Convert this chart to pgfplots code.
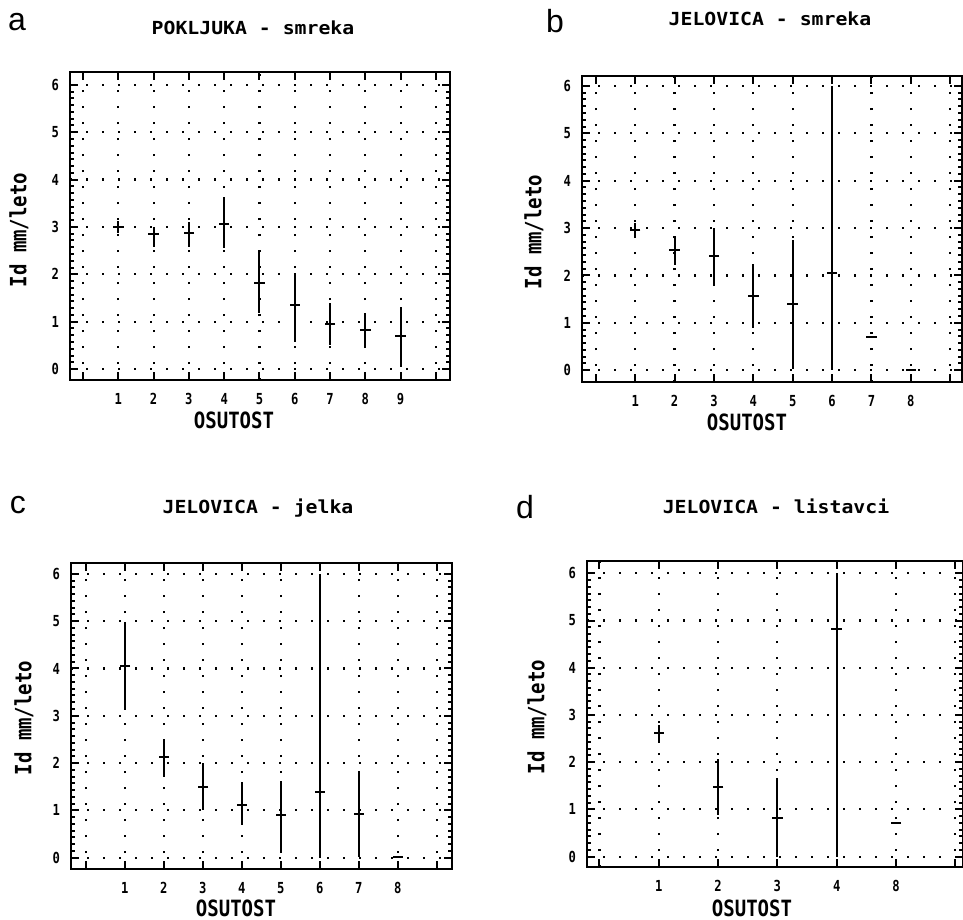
\documentclass[border=0pt]{standalone}
\usepackage{pgfplots}
\usepackage{pgfplotstable}
\pgfplotsset{compat=1.18}
\usepackage{fontspec}
\setmainfont{Liberation Sans}
\newfontfamily\plotfont[FakeStretch=0.85]{DejaVu Sans Mono}
\newfontfamily\titlefont[FakeStretch=1.1]{DejaVu Sans Mono}
\newfontfamily\tickfont[FakeStretch=0.8]{DejaVu Sans Mono}

\pgfplotstableread{
x y lo hi
1 3.00 2.87 3.13
2 2.85 2.58 3.00
3 2.88 2.58 3.11
4 3.06 2.55 3.64
5 1.82 1.18 2.48
6 1.35 0.58 2.02
7 0.96 0.51 1.39
8 0.82 0.47 1.18
9 0.70 0.05 1.32
}\dataA
\pgfplotstableread{
x y lo hi
1 2.96 2.80 3.10
2 2.54 2.22 2.80
3 2.41 1.80 3.00
4 1.56 0.88 2.25
5 1.39 0.03 2.75
6 2.06 0.00 6.00
7 0.70 0.70 0.70
8 0.01 0.01 0.01
}\dataB
\pgfplotstableread{
x y lo hi
1 4.05 3.12 4.98
2 2.12 1.71 2.49
3 1.50 1.01 2.00
4 1.11 0.69 1.59
5 0.90 0.15 1.63
6 1.38 0.00 6.00
7 0.92 0.02 1.81
8 0.02 0.02 0.02
}\dataC
\pgfplotstableread{
x y lo hi
1 2.61 2.41 2.79
2 1.48 0.88 2.06
3 0.81 0.00 1.66
4 4.81 0.00 6.00
5 0.71 0.71 0.71
}\dataD

\pgfplotsset{
  panel/.style={
    scale only axis,
    axis line style={line width=1pt},
    every tick/.style={line width=1pt, black},
    tick align=inside,
    major tick length=4pt,
    minor tick length=2pt,
    ytick={0,...,6},
    yticklabels={0,1,2,3,4,5,6},
    minor y tick num=6,
    grid=major,
    major grid style={line width=1.1pt, dash pattern=on 1.1pt off 6.9pt, black},
    ticklabel style={font=\tickfont\bfseries\fontsize{7.6}{8}\selectfont},
    xticklabel style={yshift=-3pt},
    yticklabel style={xshift=-2pt},
  },
  ebar/.style={
    black, only marks, mark=-, mark size=2.6pt,
    mark options={line width=1pt},
    error bars/.cd, y dir=both, y explicit, error mark=none,
    error bar style={line width=1pt, black},
  },
}

\begin{document}
\begin{tikzpicture}
\useasboundingbox (0pt,0pt) rectangle (481.5pt,-460pt);

% ---- a
\begin{axis}[panel, at={(35pt,-190pt)}, anchor=south west,
  width=190pt, height=154pt,
  xmin=-0.37, xmax=10.4, ymin=-0.23, ymax=6.27,
  xtick={0,...,10}, xticklabels={{},1,2,3,4,5,6,7,8,9,{}}]
\addplot[ebar] table[x=x, y=y, y error plus expr=\thisrow{hi}-\thisrow{y}, y error minus expr=\thisrow{y}-\thisrow{lo}] {\dataA};
\end{axis}

% ---- b
\begin{axis}[panel, at={(291pt,-191pt)}, anchor=south west,
  width=190pt, height=153pt,
  xmin=-0.35, xmax=9.30, ymin=-0.25, ymax=6.21,
  xtick={0,...,9}, xticklabels={{},1,2,3,4,5,6,7,8,{}}]
\addplot[ebar] table[x=x, y=y, y error plus expr=\thisrow{hi}-\thisrow{y}, y error minus expr=\thisrow{y}-\thisrow{lo}] {\dataB};
\end{axis}

% ---- c
\begin{axis}[panel, at={(35.5pt,-434.5pt)}, anchor=south west,
  width=190.5pt, height=153pt,
  xmin=-0.38, xmax=9.39, ymin=-0.24, ymax=6.23,
  xtick={0,...,9}, xticklabels={{},1,2,3,4,5,6,7,8,{}}]
\addplot[ebar] table[x=x, y=y, y error plus expr=\thisrow{hi}-\thisrow{y}, y error minus expr=\thisrow{y}-\thisrow{lo}] {\dataC};
\end{axis}

% ---- d
\begin{axis}[panel, at={(293.5pt,-433.5pt)}, anchor=south west,
  width=188pt, height=153pt,
  xmin=-0.21, xmax=6.13, ymin=-0.22, ymax=6.26,
  xtick={0,...,6}, xticklabels={{},1,2,3,4,8,{}}]
\addplot[ebar] table[x=x, y=y, y error plus expr=\thisrow{hi}-\thisrow{y}, y error minus expr=\thisrow{y}-\thisrow{lo}] {\dataD};
\end{axis}

% panel letters
\node[font=\fontsize{16}{17}\selectfont] at (8.5pt,-11pt) {a};
\node[font=\fontsize{16}{17}\selectfont] at (277.5pt,-10.5pt) {b};
\node[font=\fontsize{16}{17}\selectfont] at (9pt,-252.5pt) {c};
\node[font=\fontsize{16}{17}\selectfont] at (262.5pt,-253.5pt) {d};

% titles
\node[anchor=base, inner sep=0pt, font=\titlefont\bfseries\fontsize{9}{9}\selectfont] at (126.5pt,-17.5pt) {POKLJUKA - smreka};
\node[anchor=base, inner sep=0pt, font=\titlefont\bfseries\fontsize{9}{9}\selectfont] at (385pt,-13pt) {JELOVICA - smreka};
\node[anchor=base, inner sep=0pt, font=\titlefont\bfseries\fontsize{9}{9}\selectfont] at (129pt,-256.7pt) {JELOVICA - jelka};
\node[anchor=base, inner sep=0pt, font=\titlefont\bfseries\fontsize{9}{9}\selectfont] at (388pt,-256.7pt) {JELOVICA - listavci};

% y labels
\node[rotate=90, inner sep=0pt, font=\plotfont\bfseries\fontsize{11.2}{12}\selectfont] at (9.5pt,-115pt) {Id mm/leto};
\node[rotate=90, inner sep=0pt, font=\plotfont\bfseries\fontsize{11.2}{12}\selectfont] at (267pt,-116pt) {Id mm/leto};
\node[rotate=90, inner sep=0pt, font=\plotfont\bfseries\fontsize{11.2}{12}\selectfont] at (12pt,-359pt) {Id mm/leto};
\node[rotate=90, inner sep=0pt, font=\plotfont\bfseries\fontsize{11.2}{12}\selectfont] at (268.5pt,-358.5pt) {Id mm/leto};

% x labels
\node[inner sep=0pt, font=\plotfont\bfseries\fontsize{11.2}{12}\selectfont] at (117pt,-210pt) {OSUTOST};
\node[inner sep=0pt, font=\plotfont\bfseries\fontsize{11.2}{12}\selectfont] at (373.5pt,-211pt) {OSUTOST};
\node[inner sep=0pt, font=\plotfont\bfseries\fontsize{11.2}{12}\selectfont] at (118pt,-454pt) {OSUTOST};
\node[inner sep=0pt, font=\plotfont\bfseries\fontsize{11.2}{12}\selectfont] at (376pt,-454pt) {OSUTOST};
\end{tikzpicture}
\end{document}
